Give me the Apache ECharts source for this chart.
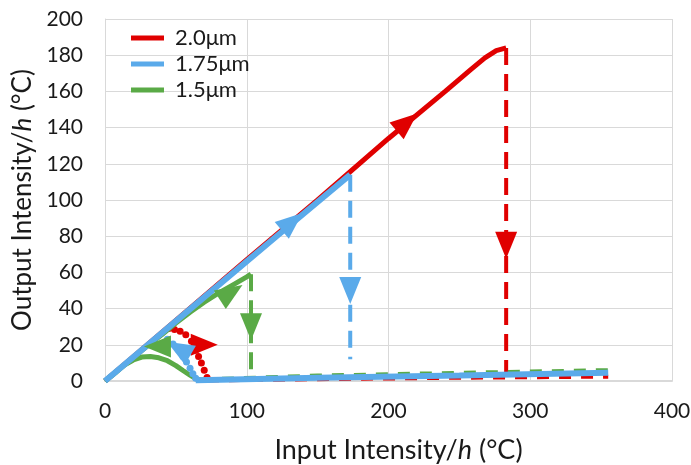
<!DOCTYPE html>
<html><head><meta charset="utf-8">
<script src="https://cdn.jsdelivr.net/npm/echarts@6/dist/echarts.min.js"></script>
<style>html,body{margin:0;padding:0;background:#fff}#c{width:691px;height:465px}</style>
</head><body><div id="c"></div>
<script>
// ---- data ----
var xTicks = [0, 100, 200, 300, 400];
var yTicks = [0, 20, 40, 60, 80, 100, 120, 140, 160, 180, 200];
var seriesNames = ['2.0μm', '1.75μm', '1.5μm'];

var redUp = [[0,0],[50,33.5],[100,67],[150,100],[200,134],[240,160],[258,172],[268,178.5],[276,182.5],[283,184]];
var redDrop = [[283,184],[283,2]];
var redLow = [[72,0.3],[150,1],[250,1.8],[355,2.4]];
var redDots = [[45,29],[49,28.5],[53,27.5],[57,25.5],[61,22],[64,17],[66,13.5],[68,10],[70,6],[72,2]];
// [x, y, rotation in degrees]
var redArrows = [[213,143,-50],[283,75,180],[70,20,-90]];

var blueUp = [[0,0],[60,39.7],[120,79.3],[173,114]];
var blueDrop = [[173,114],[173,12]];
var blueLow = [[64,0.4],[150,1.8],[250,3.1],[355,4.6]];
var blueDots = [[44,23],[48,20.5],[52,17],[55,13.5],[57.5,10.5],[60,7],[62,4],[64,1.5]];
var blueArrows = [[132,88,-50],[173,50,180],[52,18,60]];

var greenUp = [[0,0],[20,13],[30,19.5],[40,25.5],[50,32],[60,38],[70,43.5],[80,48.5],[90,53],[100,57.5],[103,59]];
var greenDrop = [[103,59],[103,1]];
var greenLow = [[67,0.8],[150,3],[250,4.5],[355,6]];
var greenHump = [[0,0],[8,5],[14,9],[20,11.6],[26,13.2],[32,13.5],[38,12.8],[44,11.2],[50,8.5],[55,5.8],[60,3.2],[64,1.3],[67,0.5]];
var greenArrows = [[89,49,-57],[103,30,180],[37,19,90]];

var colors = {red:'#e00000', blue:'#5aaaea', green:'#5aaa46'};

// ---- chart ----
var chart = echarts.init(document.getElementById('c'), null, {renderer:'canvas'});
var FONT = 'Lato';

function line(name, data, color, width, type, z) {
  return {name:name, type:'line', data:data, showSymbol:false, symbol:'none', z:z,
    lineStyle:{color:color, width:width, type:type||'solid', cap:'butt', opacity:1}, itemStyle:{color:color},
    animation:false, silent:true};
}
function dots(name, data, color, z) {
  return {name:name, type:'scatter', data:data, symbol:'circle', symbolSize:7, z:z,
    itemStyle:{color:color, opacity:1}, animation:false, silent:true};
}
function arrows(name, data, color) {
  return {name:name, type:'scatter', z:10, symbol:'triangle', symbolSize:[22,27],
    data:data.map(function(d){return {value:[d[0],d[1]], symbolRotate:d[2]};}),
    itemStyle:{color:color, opacity:1}, animation:false, silent:true};
}

var dash = [17,9];
var series = [
  line(seriesNames[0], redUp, colors.red, 5, 'solid', 1),
  line(seriesNames[0], redDrop, colors.red, 4, dash, 1),
  line(seriesNames[0], redLow, colors.red, 4, [12,10], 1),
  dots(seriesNames[0], redDots, colors.red, 1),
  line(seriesNames[2], greenUp, colors.green, 5, 'solid', 2),
  line(seriesNames[2], greenDrop, colors.green, 4, dash, 2),
  line(seriesNames[2], greenLow, colors.green, 4, [12,10], 2),
  line(seriesNames[2], greenHump, colors.green, 5, 'solid', 2),
  line(seriesNames[1], blueUp, colors.blue, 6, 'solid', 3),
  line(seriesNames[1], blueDrop, colors.blue, 4, dash, 3),
  line(seriesNames[1], blueLow, colors.blue, 6, 'solid', 3),
  dots(seriesNames[1], blueDots, colors.blue, 3),
  arrows(seriesNames[0], redArrows, colors.red),
  arrows(seriesNames[1], blueArrows, colors.blue),
  arrows(seriesNames[2], greenArrows, colors.green)
];

chart.setOption({
  backgroundColor:'#fff',
  animation:false,
  textStyle:{fontFamily:FONT},
  grid:{left:105, right:19, top:19, bottom:84, containLabel:false, outerBoundsMode:'none'},
  legend:{
    data:seriesNames.map(function(n,i){return {name:n, itemStyle:{color:[colors.red,colors.blue,colors.green][i]}};}),
    orient:'vertical', left:126, top:22, itemGap:4,
    icon:'rect', itemWidth:33, itemHeight:5,
    textStyle:{fontFamily:FONT, fontSize:22, color:'#1a1a1a', padding:[0,0,0,6]},
    selectedMode:false
  },
  xAxis:{
    type:'value', min:xTicks[0], max:xTicks[xTicks.length-1], interval:100,
    axisLine:{show:true, lineStyle:{color:'#d9d9d9', width:2}},
    axisTick:{show:false},
    splitLine:{show:true, lineStyle:{color:'#d9d9d9', width:1}},
    axisLabel:{fontFamily:FONT, fontSize:21, color:'#1a1a1a', margin:20},
    name:'{a|Input Intensity/}{i|h}{a| (°C)}', nameLocation:'middle', nameGap:56,
    nameTextStyle:{padding:[0,0,0,20], rich:{a:{fontFamily:FONT, fontSize:27, color:'#1a1a1a'}, i:{fontFamily:FONT, fontSize:27, fontStyle:'italic', color:'#1a1a1a'}}}
  },
  yAxis:{
    type:'value', min:yTicks[0], max:yTicks[yTicks.length-1], interval:20,
    axisLine:{show:true, lineStyle:{color:'#d9d9d9', width:1}},
    axisTick:{show:false},
    splitLine:{show:true, lineStyle:{color:'#d9d9d9', width:1}},
    axisLabel:{fontFamily:FONT, fontSize:21, color:'#1a1a1a', margin:22},
    name:'{a|Output Intensity/}{i|h}{a| (°C)}', nameLocation:'middle', nameGap:60, nameRotate:90,
    nameTextStyle:{rich:{a:{fontFamily:FONT, fontSize:26, color:'#1a1a1a'}, i:{fontFamily:FONT, fontSize:26, fontStyle:'italic', color:'#1a1a1a'}}}
  },
  series:series
});
</script></body></html>
